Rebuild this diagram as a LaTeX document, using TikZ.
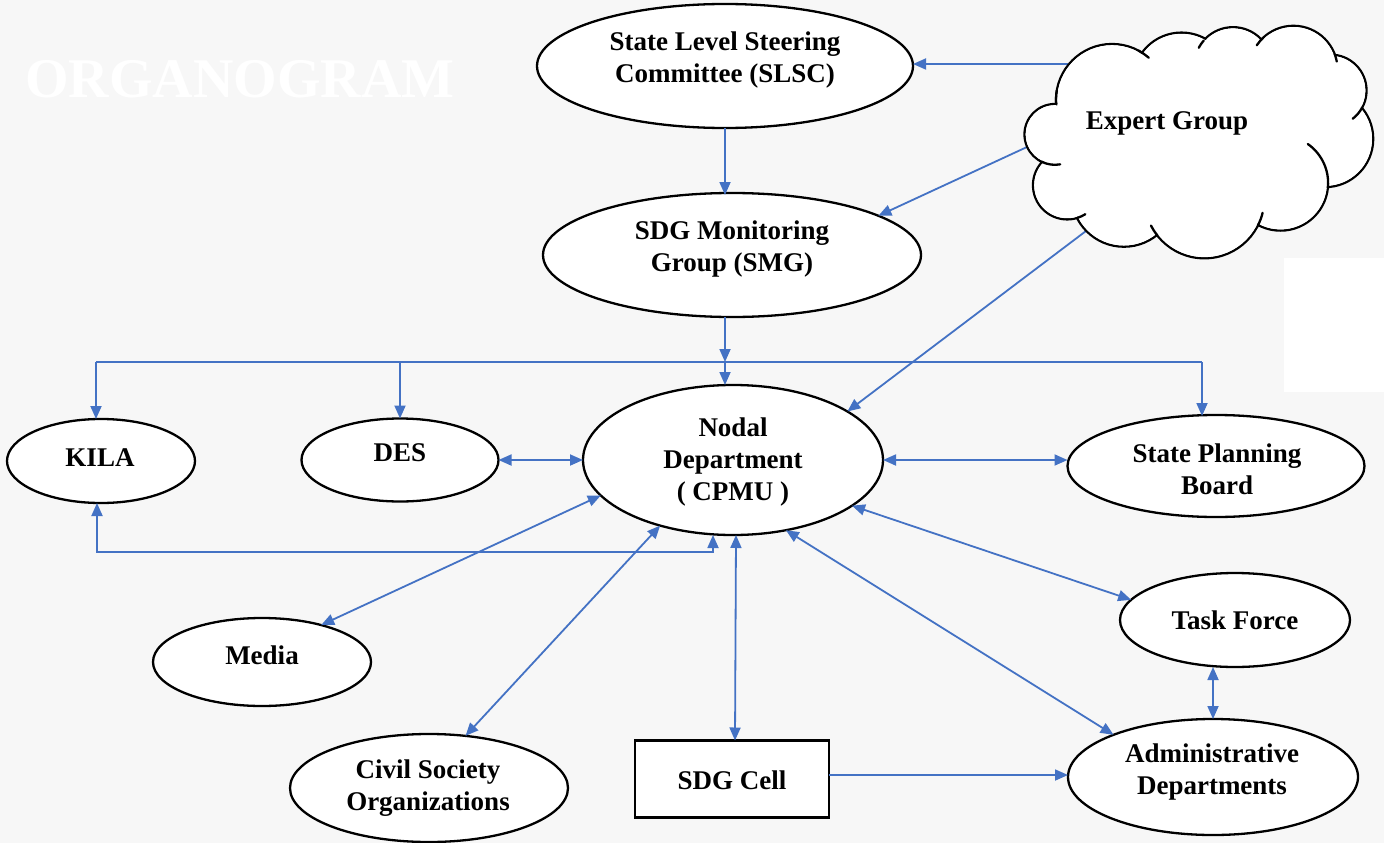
\documentclass[tikz,border=0pt]{standalone}
\usepackage{fontspec}
\setmainfont{Liberation Serif}
\usetikzlibrary{shapes.geometric,arrows.meta}
\definecolor{bg}{HTML}{F7F7F7}
\definecolor{lnk}{HTML}{4472C4}
\begin{document}
\begin{tikzpicture}[x=1pt,y=-1pt,
  box/.style={ellipse,draw=black,line width=2.3pt,fill=white,inner sep=0pt,outer sep=0pt},
  rbox/.style={rectangle,draw=black,line width=2.3pt,fill=white,inner sep=0pt,outer sep=0pt},
  lbl/.style={align=center,font=\fontsize{27}{32}\selectfont\bfseries,inner sep=0pt},
  conn/.style={draw=lnk,line width=1.8pt},
  arr/.style={conn,-{Triangle[length=13pt,width=11pt]}},
  barr/.style={conn,{Triangle[length=13pt,width=11pt]}-{Triangle[length=13pt,width=11pt]}},
  cloudline/.style={draw=black,line width=2.3pt,line cap=round}]
\fill[bg] (0,0) rectangle (1384,843);
\useasboundingbox (0,0) rectangle (1384,843);
\fill[white] (1284,258) rectangle (1384,392);
\node[font=\fontsize{56}{60}\selectfont\bfseries,text=white,inner sep=0pt] (title) at (240,79) {ORGANOGRAM};

% nodes
\node[box,minimum width=376pt,minimum height=124pt] (slsc) at (725,66) {};
\node[box,minimum width=378pt,minimum height=124pt] (smg) at (732,255) {};
\node[box,minimum width=300pt,minimum height=150pt] (nodal) at (733,460) {};
\node[box,minimum width=188pt,minimum height=84pt] (kila) at (101,461) {};
\node[box,minimum width=197pt,minimum height=83pt] (des) at (400,460) {};
\node[box,minimum width=297pt,minimum height=102pt] (spb) at (1216,466) {};
\node[box,minimum width=230pt,minimum height=94pt] (tf) at (1235,620) {};
\node[box,minimum width=290pt,minimum height=116pt] (admin) at (1213,777) {};
\node[box,minimum width=218pt,minimum height=88pt] (media) at (262,662) {};
\node[box,minimum width=278pt,minimum height=108pt] (civil) at (429,788) {};
\node[rbox,minimum width=194pt,minimum height=77pt] (sdg) at (732,779) {};

% connector points
\coordinate (c1) at (1068,64);
\coordinate (c2) at (1027,147);
\coordinate (c3) at (1086,231);
\coordinate (busL) at (96,362);
\coordinate (busC) at (725,362);
\coordinate (busD) at (400,362);
\coordinate (busR) at (1202,362);
\coordinate (kl) at (97,552);
\coordinate (kr) at (713,552);

% connectors
\draw[arr] (c1) -- (c1 -| slsc.east);
\draw[arr] (c2) -- (smg.15);
\draw[arr] (c3) -- (nodal.23);
\draw[arr] (slsc.south) -- ([yshift=-2pt]slsc.south |- smg.north);
\draw[arr] ([xshift=-7pt]smg.south) -- (busC);
\draw[arr] (busC) -- (busC |- nodal.north);
\draw[conn] (busL) -- (busR);
\draw[arr] (busL) -- (busL |- kila.north);
\draw[arr] (busD) -- (des.north);
\draw[arr] (busR) -- ([yshift=-1pt]busR |- spb.north);
\draw[barr] (des.east) -- (nodal.west);
\draw[barr] (nodal.east) -- (nodal.east -| spb.west);
\draw[barr] (kl |- kila.south) -- (kl) -- (kr) -- (kr |- nodal.south);
\draw[barr] (media.32) -- (nodal.195);
\draw[barr] (civil.55) -- (nodal.222);
\draw[barr] ([xshift=3pt]sdg.north) -- ([xshift=3pt]nodal.south);
\draw[barr] (tf.169) -- (nodal.339);
\draw[barr] (admin.157) -- (nodal.307);
\draw[barr] (admin.north |- tf.south) -- (admin.north);
\draw[arr] ([yshift=4pt]sdg.east) -- ([yshift=4pt]sdg.east -| admin.west);

% cloud (Expert Group): union of puffs
\foreach \cx/\cy/\r in {1112/100/56,1181.5/81.4/48.8,1233/66/38.8,1293.4/70/44.2,1330.7/90.5/35.8,
  1325/138.9/48.2,1280.5/183/47.6,1204.4/198.3/60,1123.9/194.1/52.6,1067.2/185.2/34.2,1054.9/134.4/30.4}
  {\draw[cloudline] (\cx,\cy) circle[radius=\r];}
\foreach \cx/\cy/\r in {1112/100/56,1181.5/81.4/48.8,1233/66/38.8,1293.4/70/44.2,1330.7/90.5/35.8,
  1325/138.9/48.2,1280.5/183/47.6,1204.4/198.3/60,1123.9/194.1/52.6,1067.2/185.2/34.2,1054.9/134.4/30.4}
  {\fill[white] (\cx,\cy) circle[radius={\r-1.2}];}
\fill[white] (1066,107) -- (1142,58) -- (1205,49) -- (1259,46) -- (1326,61) -- (1351,111)
  -- (1319,184) -- (1254,219) -- (1160,229) -- (1086,213) -- (1053,161) -- cycle;
% inner puff ticks
\foreach \cx/\cy/\r/\a/\b in {1112/100/56/176/190, 1112/100/56/-62/-49, 1233/66/38.8/-139/-152,
  1293.4/70/44.2/-133/-146, 1293.4/70/44.2/-20/-11, 1330.7/90.5/35.8/29/52,
  1280.5/183/47.6/5/-55, 1204.4/198.3/60/27/14, 1204.4/198.3/60/142/153,
  1067.2/185.2/34.2/73/58, 1054.9/134.4/30.4/115/80}
  {\draw[cloudline] (\cx,\cy) ++(\a:\r) arc[start angle=\a,end angle=\b,radius=\r];}

% labels
\node[lbl] (slscT) at (725,60) {State Level Steering\\Committee (SLSC)};
\node[lbl] (smgT) at (732,249) {SDG Monitoring\\Group (SMG)};
\node[lbl] (nodalT) at (733,462) {Nodal\\Department\\( CPMU )};
\node[lbl] (kilaT) at (100,458) {KILA};
\node[lbl] (desT) at (400,453) {DES};
\node[lbl] (spbT) at (1217,469) {State Planning\\Board};
\node[lbl] (tfT) at (1235,620) {Task Force};
\node[lbl] (adminT) at (1212,772) {Administrative\\Departments};
\node[lbl] (mediaT) at (262,655) {Media};
\node[lbl] (civilT) at (428,788) {Civil Society\\Organizations};
\node[lbl] (sdgT) at (732,780) {SDG Cell};
\node[lbl] (cloudT) at (1167,123) {Expert Group};
\end{tikzpicture}
\end{document}
